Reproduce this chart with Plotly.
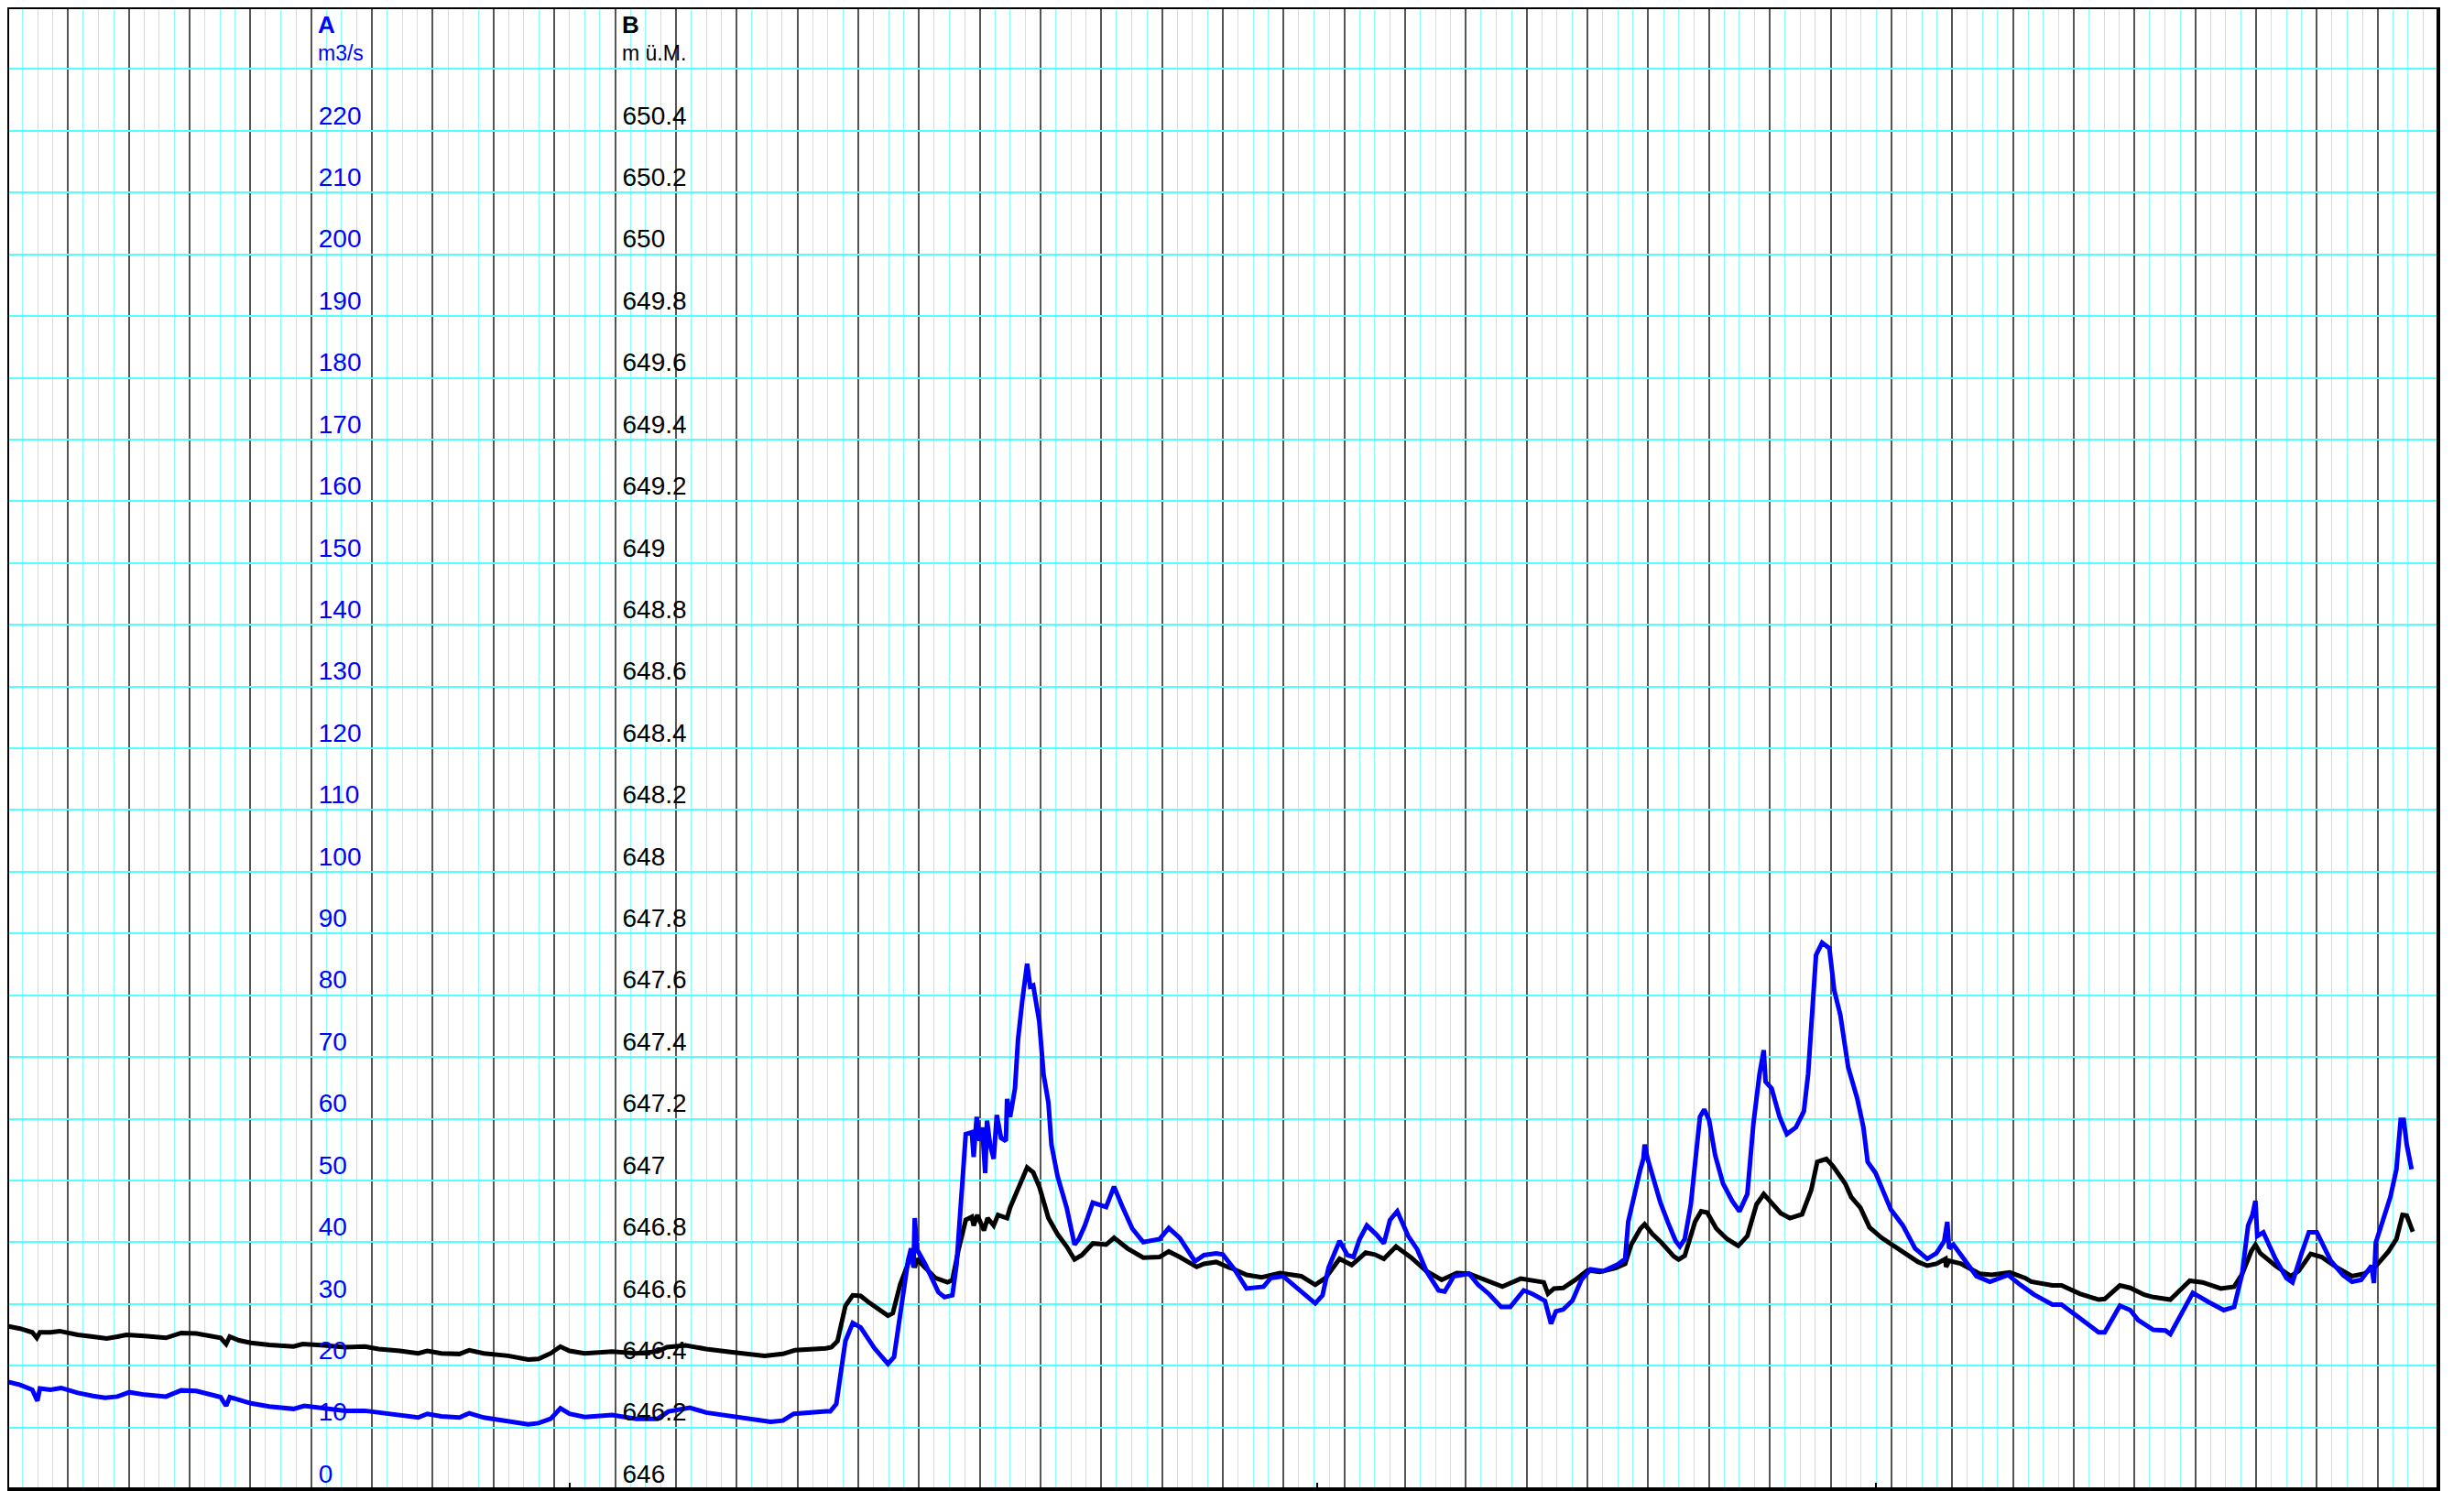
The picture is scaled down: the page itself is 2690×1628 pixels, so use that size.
import plotly.graph_objects as go

# ---------------- data ----------------
# x: time in days from the start of the record (major grid = 1 day)
blue_day = [
    0.0, 0.21, 0.41, 0.495, 0.535, 0.71, 0.885, 1.16, 1.41, 1.61,
    1.81, 2.01, 2.26, 2.61, 2.86, 3.11, 3.51, 3.6, 3.66, 3.91,
    4.01, 4.31, 4.71, 4.885, 5.21, 5.56, 5.885, 6.11, 6.46, 6.76,
    6.91, 7.14, 7.44, 7.6, 7.84, 8.24, 8.57, 8.74, 8.94, 9.1,
    9.25, 9.5, 9.95, 10.35, 10.7, 10.88, 11.23, 11.5, 11.9, 12.56,
    12.76, 12.94, 13.47, 13.54, 13.64, 13.79, 13.91, 14.04, 14.27, 14.49,
    14.59, 14.72, 14.82, 14.87, 14.91, 14.93, 14.97, 15.1, 15.25, 15.32,
    15.42, 15.55, 15.62, 15.7, 15.77, 15.87, 15.9, 15.95, 16.0, 16.04,
    16.09, 16.12, 16.17, 16.23, 16.28, 16.35, 16.43, 16.45, 16.5, 16.58,
    16.63, 16.7, 16.78, 16.83, 16.88, 16.98, 17.05, 17.13, 17.18, 17.28,
    17.43, 17.56, 17.63, 17.73, 17.86, 18.08, 18.21, 18.34, 18.51, 18.69,
    18.96, 19.11, 19.29, 19.54, 19.69, 19.89, 20.0, 20.19, 20.39, 20.67,
    20.79, 20.99, 21.29, 21.52, 21.64, 21.74, 21.92, 22.05, 22.15, 22.25,
    22.37, 22.52, 22.65, 22.75, 22.87, 23.05, 23.2, 23.35, 23.55, 23.65,
    23.8, 23.95, 24.05, 24.2, 24.38, 24.58, 24.73, 24.95, 25.1, 25.3,
    25.4, 25.48, 25.6, 25.75, 25.9, 26.05, 26.26, 26.5, 26.62, 26.67,
    26.77, 26.87, 26.92, 26.94, 26.99, 27.1, 27.2, 27.32, 27.45, 27.52,
    27.6, 27.7, 27.77, 27.85, 27.92, 28.0, 28.1, 28.23, 28.38, 28.5,
    28.63, 28.73, 28.83, 28.9, 28.93, 29.03, 29.16, 29.28, 29.43, 29.56,
    29.63, 29.68, 29.76, 29.86, 29.98, 30.06, 30.16, 30.29, 30.44, 30.54,
    30.61, 30.74, 30.89, 30.99, 31.19, 31.39, 31.59, 31.74, 31.87, 31.92,
    31.95, 32.02, 32.17, 32.4, 32.62, 32.92, 33.12, 33.35, 33.65, 33.8,
    34.06, 34.41, 34.51, 34.76, 34.93, 35.06, 35.31, 35.51, 35.59, 35.96,
    36.22, 36.47, 36.64, 36.77, 36.87, 36.94, 36.99, 37.02, 37.12, 37.32,
    37.5, 37.6, 37.75, 37.87, 38.0, 38.23, 38.43, 38.58, 38.73, 38.9,
    38.94, 38.97, 39.06, 39.21, 39.31, 39.38, 39.43, 39.48, 39.56,
]
# A: discharge, m3/s
blue_q = [
    17.4, 16.9, 16.1, 14.3, 16.3, 16.1, 16.4, 15.6, 15.1, 14.8,
    15.0, 15.7, 15.3, 15.0, 16.0, 15.9, 14.9, 13.5, 14.9, 14.2,
    13.9, 13.4, 13.0, 13.5, 13.1, 12.7, 12.7, 12.4, 11.9, 11.6,
    12.2, 11.8, 11.6, 12.3, 11.6, 11.0, 10.5, 10.7, 11.4, 13.1,
    12.2, 11.7, 12.0, 11.4, 11.4, 12.6, 13.2, 12.4, 11.9, 10.9,
    11.1, 12.2, 12.6, 12.6, 13.8, 24.0, 26.9, 26.2, 22.8, 20.3,
    21.4, 30.2, 37.0, 39.0, 35.9, 43.9, 38.8, 36.5, 33.4, 31.9,
    31.1, 31.4, 36.5, 47.3, 57.5, 57.8, 53.8, 60.3, 56.4, 58.6,
    51.2, 59.7, 55.8, 53.5, 60.6, 56.9, 56.4, 63.2, 60.3, 64.9,
    72.8, 79.1, 85.1, 81.4, 81.6, 75.7, 67.2, 62.6, 55.8, 50.7,
    45.6, 39.6, 40.5, 42.7, 46.4, 45.7, 49.0, 45.9, 42.2, 40.0,
    40.5, 42.3, 40.7, 36.9, 37.9, 38.2, 38.0, 35.6, 32.5, 32.8,
    34.2, 34.5, 31.9, 30.1, 31.4, 35.9, 40.2, 37.9, 37.6, 40.5,
    42.7, 41.3, 39.8, 43.6, 45.0, 41.0, 38.8, 35.3, 32.2, 32.0,
    34.5, 34.7, 34.9, 33.1, 31.6, 29.5, 29.5, 32.2, 31.6, 30.5,
    26.8, 28.8, 29.1, 30.5, 33.9, 35.6, 35.3, 36.4, 37.3, 43.3,
    47.8, 51.8, 53.5, 55.8, 53.5, 49.5, 46.4, 43.3, 40.2, 39.3,
    40.5, 46.1, 53.0, 60.3, 61.5, 59.8, 54.1, 49.5, 46.7, 45.0,
    47.8, 59.2, 67.2, 71.1, 66.0, 64.9, 60.3, 57.5, 58.6, 61.2,
    67.2, 75.7, 86.5, 88.5, 87.6, 80.8, 76.8, 68.3, 63.2, 58.6,
    53.0, 51.2, 47.8, 45.3, 42.7, 39.0, 37.3, 38.2, 40.2, 43.3,
    39.0, 39.6, 37.6, 34.5, 33.6, 34.7, 33.1, 31.5, 29.9, 29.9,
    28.0, 25.4, 25.4, 29.7, 29.0, 27.4, 25.8, 25.7, 25.1, 31.8,
    30.3, 29.0, 29.5, 34.8, 42.7, 44.4, 46.7, 41.0, 41.6, 37.3,
    34.2, 33.5, 38.2, 41.6, 41.6, 37.0, 34.7, 33.6, 33.9, 36.2,
    33.4, 39.9, 42.7, 47.3, 51.8, 59.8, 59.8, 55.8, 51.8,
]

black_day = [
    0.0, 0.21, 0.41, 0.485, 0.535, 0.71, 0.86, 1.16, 1.41, 1.635,
    1.81, 1.96, 2.26, 2.61, 2.86, 3.11, 3.51, 3.6, 3.66, 3.81,
    4.01, 4.31, 4.71, 4.86, 5.21, 5.56, 5.885, 6.11, 6.46, 6.76,
    6.91, 7.14, 7.44, 7.6, 7.84, 8.24, 8.57, 8.74, 8.94, 9.1,
    9.25, 9.5, 9.95, 10.35, 10.7, 10.85, 11.16, 11.5, 11.9, 12.46,
    12.76, 12.96, 13.47, 13.56, 13.66, 13.79, 13.91, 14.04, 14.17, 14.37,
    14.49, 14.57, 14.69, 14.82, 14.89, 14.93, 14.97, 15.07, 15.27, 15.47,
    15.55, 15.65, 15.77, 15.87, 15.9, 15.96, 16.07, 16.13, 16.23, 16.3,
    16.45, 16.5, 16.62, 16.78, 16.88, 16.98, 17.13, 17.28, 17.43, 17.56,
    17.68, 17.86, 18.08, 18.21, 18.43, 18.69, 18.96, 19.11, 19.29, 19.57,
    19.69, 19.89, 20.1, 20.19, 20.39, 20.64, 20.94, 21.29, 21.52, 21.69,
    21.92, 22.12, 22.35, 22.5, 22.65, 22.85, 23.1, 23.35, 23.6, 23.85,
    24.05, 24.3, 24.6, 24.9, 25.28, 25.35, 25.45, 25.6, 25.8, 26.0,
    26.2, 26.46, 26.62, 26.72, 26.87, 26.94, 27.07, 27.22, 27.42, 27.5,
    27.6, 27.77, 27.87, 27.97, 28.12, 28.3, 28.48, 28.63, 28.78, 28.9,
    29.03, 29.18, 29.33, 29.53, 29.68, 29.78, 29.93, 30.04, 30.24, 30.34,
    30.49, 30.64, 30.84, 31.04, 31.29, 31.44, 31.59, 31.74, 31.89, 31.9,
    31.95, 32.15, 32.45, 32.65, 32.95, 33.2, 33.3, 33.65, 33.8, 34.1,
    34.41, 34.51, 34.76, 34.93, 35.16, 35.31, 35.59, 35.91, 36.12, 36.42,
    36.64, 36.77, 36.92, 36.99, 37.07, 37.32, 37.57, 37.7, 37.9, 38.08,
    38.33, 38.58, 38.78, 38.98, 39.18, 39.31, 39.41, 39.48, 39.58,
]
# B: water level, m ü.M.
black_h = [
    646.528, 646.52, 646.508, 646.49, 646.508, 646.508, 646.512, 646.50, 646.494, 646.488,
    646.494, 646.50, 646.496, 646.49, 646.506, 646.504, 646.49, 646.47, 646.494, 646.482,
    646.474, 646.467, 646.462, 646.47, 646.466, 646.46, 646.462, 646.454, 646.448, 646.44,
    646.448, 646.44, 646.438, 646.45, 646.44, 646.432, 646.42, 646.422, 646.44, 646.462,
    646.448, 646.44, 646.446, 646.44, 646.446, 646.46, 646.466, 646.454, 646.444, 646.432,
    646.438, 646.45, 646.456, 646.46, 646.48, 646.594, 646.628, 646.626, 646.606, 646.576,
    646.562, 646.57, 646.662, 646.73, 646.764, 646.718, 646.746, 646.724, 646.684, 646.67,
    646.678, 646.775, 646.872, 646.882, 646.854, 646.888, 646.838, 646.878, 646.854, 646.888,
    646.878, 646.912, 646.968, 647.042, 647.026, 646.98, 646.878, 646.826, 646.786, 646.744,
    646.758, 646.796, 646.792, 646.814, 646.78, 646.75, 646.752, 646.77, 646.752, 646.72,
    646.73, 646.736, 646.718, 646.712, 646.694, 646.686, 646.70, 646.69, 646.662, 646.684,
    646.746, 646.726, 646.766, 646.76, 646.746, 646.786, 646.75, 646.706, 646.678, 646.70,
    646.698, 646.678, 646.656, 646.682, 646.67, 646.633, 646.65, 646.652, 646.678, 646.709,
    646.704, 646.716, 646.73, 646.792, 646.844, 646.858, 646.826, 646.798, 646.754, 646.744,
    646.756, 646.866, 646.90, 646.896, 646.844, 646.81, 646.788, 646.82, 646.922, 646.956,
    646.928, 646.894, 646.878, 646.89, 646.968, 647.06, 647.07, 647.046, 646.99, 646.946,
    646.912, 646.848, 646.814, 646.788, 646.758, 646.736, 646.724, 646.73, 646.746, 646.72,
    646.74, 646.73, 646.698, 646.694, 646.702, 646.684, 646.672, 646.66, 646.66, 646.633,
    646.614, 646.616, 646.66, 646.652, 646.63, 646.622, 646.614, 646.675, 646.67, 646.65,
    646.656, 646.696, 646.77, 646.792, 646.764, 646.724, 646.69, 646.706, 646.762, 646.752,
    646.718, 646.69, 646.698, 646.724, 646.77, 646.81, 646.888, 646.886, 646.834,
]

# axis ticks
a_tickvals = [0, 10, 20, 30, 40, 50, 60, 70, 80, 90, 100, 110, 120, 130, 140,
              150, 160, 170, 180, 190, 200, 210, 220]
a_ticktext = ["0", "10", "20", "30", "40", "50", "60", "70", "80", "90", "100",
              "110", "120", "130", "140", "150", "160", "170", "180", "190",
              "200", "210", "220"]
b_tickvals = [646.0, 646.2, 646.4, 646.6, 646.8, 647.0, 647.2, 647.4, 647.6, 647.8,
              648.0, 648.2, 648.4, 648.6, 648.8, 649.0, 649.2, 649.4, 649.6, 649.8,
              650.0, 650.2, 650.4, 650.6]
b_ticktext = ["646", "646.2", "646.4", "646.6", "646.8", "647", "647.2", "647.4",
              "647.6", "647.8", "648", "648.2", "648.4", "648.6", "648.8", "649",
              "649.2", "649.4", "649.6", "649.8", "650", "650.2", "650.4", ""]
bottom_marks = [9.25, 21.55, 30.75]

A_RANGE = [0, 240]
B_RANGE = [646.0, 650.8]
X_RANGE = [0, 40]

FONT = "Liberation Sans, Arial, sans-serif"
BLUE = "#0000FF"

fig = go.Figure()
fig.add_trace(go.Scatter(x=black_day, y=black_h, mode="lines", yaxis="y",
                         line=dict(color="#000000", width=5), hoverinfo="skip"))
fig.add_trace(go.Scatter(x=blue_day, y=blue_q, mode="lines", yaxis="y2",
                         line=dict(color=BLUE, width=5), hoverinfo="skip"))
fig.add_trace(go.Scatter(x=[None], y=[None], xaxis="x2", yaxis="y",
                         mode="lines", hoverinfo="skip"))

# the page body adds an 8 px margin, so the figure is sized to fit around it
fig.update_layout(
    width=2682, height=1620,
    margin=dict(l=0, r=28, t=0, b=2, pad=0),
    paper_bgcolor="white", plot_bgcolor="white",
    showlegend=False,
    font=dict(family=FONT),
    xaxis=dict(
        range=X_RANGE, tick0=0, dtick=1, showticklabels=False, ticks="",
        showgrid=True, gridcolor="#555555", gridwidth=1.5,
        minor=dict(dtick=0.25, showgrid=True, gridcolor="#8CFCFC", gridwidth=1),
        zeroline=False, showline=False, automargin=False,
    ),
    xaxis2=dict(
        range=X_RANGE, overlaying="x", anchor="y", side="bottom",
        tickmode="array", tickvals=bottom_marks, ticks="inside", ticklen=7,
        tickwidth=2, tickcolor="#000000", showticklabels=False,
        showgrid=False, zeroline=False, showline=False, automargin=False,
    ),
    yaxis=dict(
        range=B_RANGE, tickmode="array", tickvals=b_tickvals, ticktext=b_ticktext,
        showgrid=True, gridcolor="#55FFFF", gridwidth=2,
        anchor="free", position=0.25, side="left",
        ticklabelposition="inside", ticklabeloverflow="allow",
        ticks="", ticklabelshift=-17, ticklabelstandoff=4,
        tickfont=dict(family=FONT, size=28, color="#000000"),
        zeroline=False, showline=False, automargin=False,
    ),
    yaxis2=dict(
        range=A_RANGE, overlaying="y", tickmode="array",
        tickvals=a_tickvals, ticktext=a_ticktext,
        showgrid=False, anchor="free", position=0.125, side="left",
        ticklabelposition="inside", ticklabeloverflow="allow",
        ticks="", ticklabelshift=-17, ticklabelstandoff=4,
        tickfont=dict(family=FONT, size=28, color=BLUE),
        zeroline=False, showline=False, automargin=False,
    ),
    shapes=[dict(type="rect", xref="paper", yref="paper", x0=0, y0=0, x1=1, y1=1,
                 line=dict(color="#000000", width=4), layer="above")],
    annotations=[
        dict(text="<b>A</b>", x=5, xref="x", y=0.9880, yref="paper",
             xanchor="left", yanchor="middle", xshift=5, showarrow=False,
             font=dict(family=FONT, size=26, color=BLUE)),
        dict(text="m3/s", x=5, xref="x", y=0.9692, yref="paper",
             xanchor="left", yanchor="middle", xshift=5, showarrow=False,
             font=dict(family=FONT, size=23, color=BLUE)),
        dict(text="<b>B</b>", x=10, xref="x", y=0.9880, yref="paper",
             xanchor="left", yanchor="middle", xshift=5, showarrow=False,
             font=dict(family=FONT, size=26, color="#000000")),
        dict(text="m ü.M.", x=10, xref="x", y=0.9692, yref="paper",
             xanchor="left", yanchor="middle", xshift=5, showarrow=False,
             font=dict(family=FONT, size=23, color="#000000")),
    ],
)

fig.write_html("out.html")
